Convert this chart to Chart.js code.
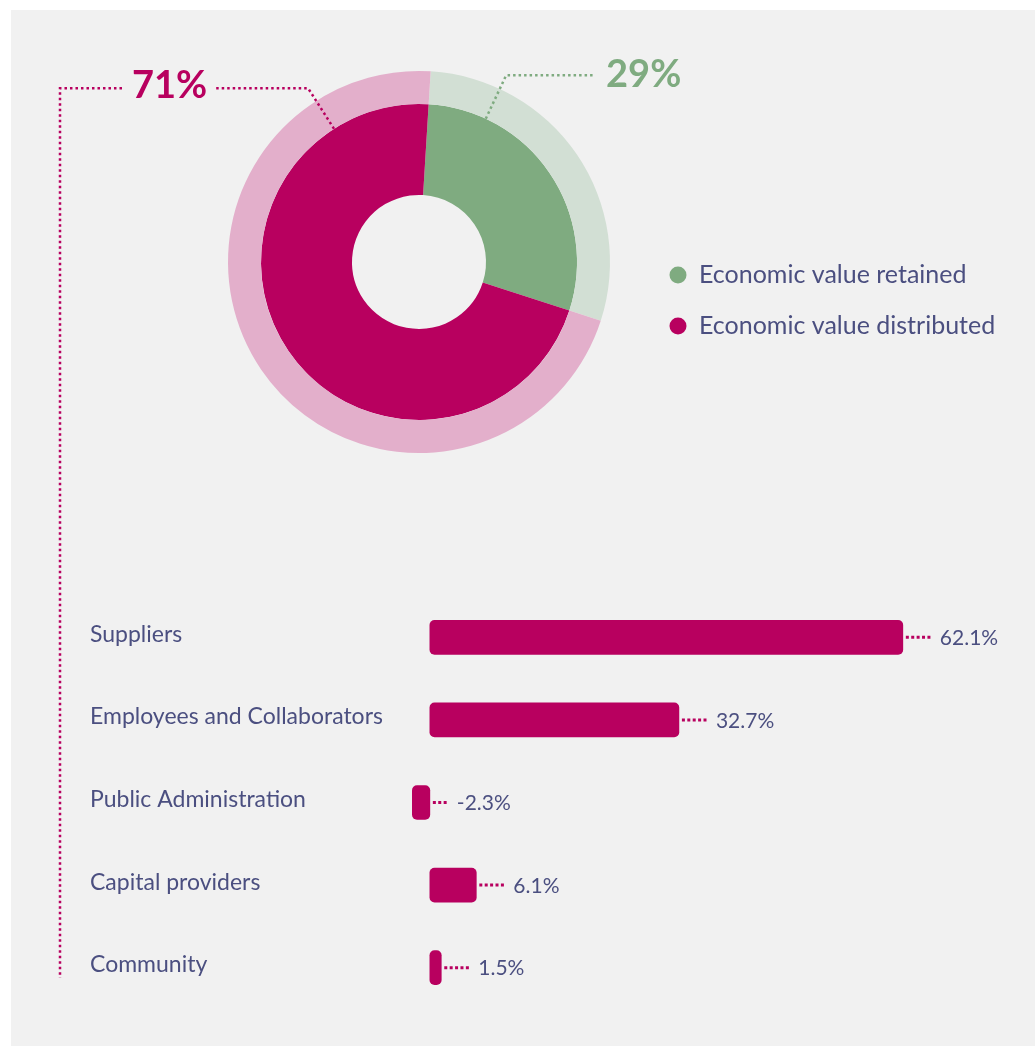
<!DOCTYPE html>
<html><head><meta charset="utf-8">
<script src="https://cdn.jsdelivr.net/npm/chart.js@4.4.0/dist/chart.umd.min.js"></script>
<style>
html,body{margin:0;padding:0;background:#fff;width:1035px;height:1046px;overflow:hidden}
#panel{position:absolute;left:11px;top:10px;width:1024px;height:1036px;background:#f1f1f1}
canvas{position:absolute;left:0;top:0}
</style></head><body>
<div id="panel"></div>
<canvas id="donut" width="1035" height="1046"></canvas>
<canvas id="bars" width="1035" height="1046"></canvas>
<script>
// ---- data ----
const shareLabels = ['Economic value retained', 'Economic value distributed'];
const shareValues = [29, 71];
const shareText = ['29%', '71%'];
const categories = ['Suppliers', 'Employees and Collaborators', 'Public Administration', 'Capital providers', 'Community'];
const distValues = [62.1, 32.7, -2.3, 6.1, 1.5];
const distText = ['62.1%', '32.7%', '-2.3%', '6.1%', '1.5%'];

// ---- styles ----
const MAG = '#b8005f', GRN = '#7fab80', MAG_L = '#e3afcb', GRN_L = '#d2dfd4', TXT = '#4b4f80';
const FONT = 'Lato';

function dotted(ctx, pts, color, w, dash) {
  ctx.save();
  ctx.strokeStyle = color; ctx.lineWidth = w; ctx.setLineDash(dash); ctx.lineCap = 'butt';
  ctx.beginPath();
  ctx.moveTo(pts[0][0], pts[0][1]);
  for (let i = 1; i < pts.length; i++) ctx.lineTo(pts[i][0], pts[i][1]);
  ctx.stroke();
  ctx.restore();
}

const donutDecor = {
  id: 'donutDecor',
  afterDraw(chart) {
    const ctx = chart.ctx;
    const inner = chart.getDatasetMeta(1).data;
    const colors = [GRN, MAG];
    const fracs = [0.206, 0.859];
    const elbowR = 206;
    inner.forEach((arc, i) => {
      const a = arc.startAngle + fracs[i] * (arc.endAngle - arc.startAngle);
      const p0 = [arc.x + arc.outerRadius * Math.cos(a), arc.y + arc.outerRadius * Math.sin(a)];
      const p1 = [arc.x + elbowR * Math.cos(a), arc.y + elbowR * Math.sin(a)];
      ctx.save();
      ctx.font = '700 38px ' + FONT;
      const w = ctx.measureText(shareText[i]).width;
      ctx.fillStyle = colors[i];
      ctx.textBaseline = 'alphabetic';
      if (p1[0] >= arc.x) {
        const lineEnd = p1[0] + 89;
        dotted(ctx, [p0, p1, [lineEnd, p1[1]]], colors[i], 2.5, [2.5, 3]);
        ctx.textAlign = 'left';
        ctx.fillText(shareText[i], lineEnd + 11, p1[1] + 12);
      } else {
        const lineEnd = p1[0] - 93;
        dotted(ctx, [p0, p1, [lineEnd, p1[1]]], colors[i], 2.5, [2.5, 3]);
        const tx = lineEnd - 8 - w;
        ctx.textAlign = 'left';
        ctx.fillText(shareText[i], tx, p1[1] + 10);
        dotted(ctx, [[tx - 10, p1[1]], [60, p1[1]], [60, 978]], colors[i], 2.5, [2.5, 3]);
      }
      ctx.restore();
    });
    // legend
    ctx.save();
    ctx.font = '25px ' + FONT;
    ctx.textBaseline = 'middle';
    ctx.textAlign = 'left';
    shareLabels.forEach((lab, i) => {
      const y = 275 + i * 51;
      ctx.fillStyle = colors[i];
      ctx.beginPath(); ctx.arc(678, y, 8.5, 0, Math.PI * 2); ctx.fill();
      ctx.fillStyle = TXT;
      ctx.fillText(lab, 699, y);
    });
    ctx.restore();
  }
};

const valueLabels = {
  id: 'valueLabels',
  afterDatasetsDraw(chart) {
    const ctx = chart.ctx;
    chart.getDatasetMeta(0).data.forEach((bar, i) => {
      const start = Math.max(bar.x, bar.base) + 3;
      const len = distValues[i] < 0 ? 16 : 26;
      dotted(ctx, [[start, bar.y], [start + len, bar.y]], MAG, 3, [3, 2.4]);
      ctx.save();
      ctx.font = '21px ' + FONT;
      ctx.fillStyle = TXT;
      ctx.textBaseline = 'middle';
      ctx.textAlign = 'left';
      ctx.fillText(distText[i], start + len + 8, bar.y + 1);
      ctx.restore();
    });
  }
};

function draw() {
  new Chart(document.getElementById('donut'), {
    type: 'doughnut',
    data: {
      labels: shareLabels,
      datasets: [
        { data: shareValues, backgroundColor: [GRN_L, MAG_L], borderWidth: 0, weight: 33 },
        { data: shareValues, backgroundColor: [GRN, MAG], borderWidth: 0, weight: 91 }
      ]
    },
    options: {
      responsive: false, animation: false, events: [],
      rotation: 3.5, cutout: '35.08%',
      layout: { padding: { left: 228, top: 71, right: 425, bottom: 593 } },
      plugins: { legend: { display: false }, tooltip: { enabled: false } }
    },
    plugins: [donutDecor]
  });

  new Chart(document.getElementById('bars'), {
    type: 'bar',
    data: {
      labels: categories,
      datasets: [{ data: distValues, backgroundColor: MAG, borderRadius: 5, borderSkipped: false, barThickness: 34 }]
    },
    options: {
      indexAxis: 'y', responsive: false, animation: false, events: [],
      layout: { padding: { left: 90, right: 72, top: 596, bottom: 37 } },
      plugins: { legend: { display: false }, tooltip: { enabled: false } },
      scales: {
        x: { min: -3, max: 70, display: false },
        y: {
          grid: { display: false }, border: { display: false },
          ticks: { crossAlign: 'far', color: TXT, font: { family: FONT, size: 23 }, padding: 0, labelOffset: -3 },
          afterFit(s) { s.width = 317; }
        }
      }
    },
    plugins: [valueLabels]
  });
}

Promise.all([
  document.fonts.load('24px Lato'),
  document.fonts.load('700 38px Lato')
]).then(draw, draw);
</script>
</body></html>
